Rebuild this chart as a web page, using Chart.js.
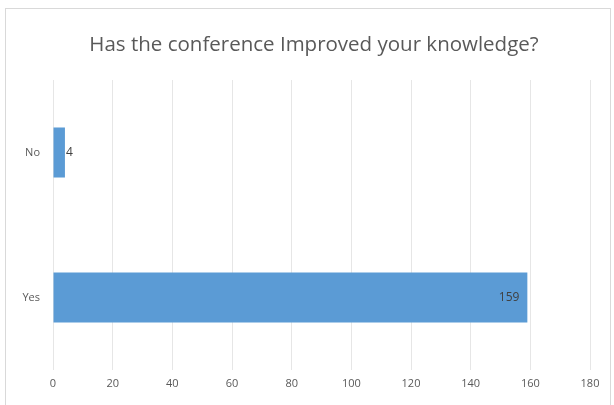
<!DOCTYPE html>
<html>
<head>
<meta charset="utf-8">
<script src="https://cdn.jsdelivr.net/npm/chart.js@4"></script>
<style>
  html, body { margin: 0; padding: 0; background: #fff; }
  #wrap { position: relative; width: 614px; height: 405px; overflow: hidden; }
  #frame { position: absolute; left: 5px; top: 8px; width: 606px; height: 420px; border: 1px solid #d9d9d9; box-sizing: border-box; }
  canvas { position: absolute; left: 0; top: 0; }
</style>
</head>
<body>
<div id="wrap">
  <div id="frame"></div>
  <canvas id="chart" width="614" height="405"></canvas>
</div>
<script>
const chartTitle = 'Has the conference Improved your knowledge?';
const categories = ['No', 'Yes'];
const responses = [4, 159];
const xTicks = [0, 20, 40, 60, 80, 100, 120, 140, 160, 180];

// title sits off-centre in the original, so draw it ourselves
const titlePlugin = {
  id: 'offsetTitle',
  afterDraw(chart) {
    const { ctx } = chart;
    ctx.save();
    ctx.font = '20.5px "Open Sans", sans-serif';
    ctx.fillStyle = '#595959';
    ctx.textAlign = 'center';
    ctx.textBaseline = 'middle';
    ctx.fillText(chartTitle, 314, 45);
    ctx.restore();
  },
};

const valueLabelsPlugin = {
  id: 'valueLabels',
  afterDatasetsDraw(chart) {
    const { ctx } = chart;
    const meta = chart.getDatasetMeta(0);
    ctx.save();
    ctx.font = '12px "Open Sans", sans-serif';
    ctx.fillStyle = '#404040';
    ctx.textBaseline = 'middle';
    meta.data.forEach((bar, i) => {
      const text = String(responses[i]);
      const w = ctx.measureText(text).width;
      const len = bar.x - bar.base;
      if (len > w + 12) {
        ctx.textAlign = 'right';
        ctx.fillText(text, bar.x - 8, bar.y);
      } else {
        ctx.textAlign = 'left';
        ctx.fillText(text, bar.x + 1, bar.y);
      }
    });
    ctx.restore();
  },
};

const ctx = document.getElementById('chart').getContext('2d');
new Chart(ctx, {
  type: 'bar',
  data: {
    labels: categories,
    datasets: [
      {
        label: 'Responses',
        data: responses,
        backgroundColor: '#5b9bd5',
        borderWidth: 0,
        barPercentage: 0.345,
        categoryPercentage: 1,
      },
    ],
  },
  options: {
    indexAxis: 'y',
    responsive: false,
    animation: false,
    layout: {
      padding: { left: 0, right: 24, top: 80, bottom: 10 },
    },
    plugins: {
      legend: { display: false },
      tooltip: { enabled: false },
      title: { display: false },
    },
    scales: {
      x: {
        min: 0,
        max: 180,
        afterBuildTicks: (scale) => {
          scale.ticks = xTicks.map((v) => ({ value: v }));
        },
        afterFit: (scale) => {
          scale.height = 25;
        },
        grid: { color: '#e6e6e6', drawTicks: false },
        border: { display: false },
        ticks: {
          color: '#595959',
          padding: 7,
          font: { family: '"Open Sans", sans-serif', size: 11 },
        },
      },
      y: {
        afterFit: (scale) => {
          scale.width = 53;
        },
        grid: { display: false, drawTicks: false },
        border: { display: false },
        ticks: {
          color: '#595959',
          padding: 13,
          font: { family: '"Open Sans", sans-serif', size: 11 },
        },
      },
    },
  },
  plugins: [valueLabelsPlugin, titlePlugin],
});
</script>
</body>
</html>
